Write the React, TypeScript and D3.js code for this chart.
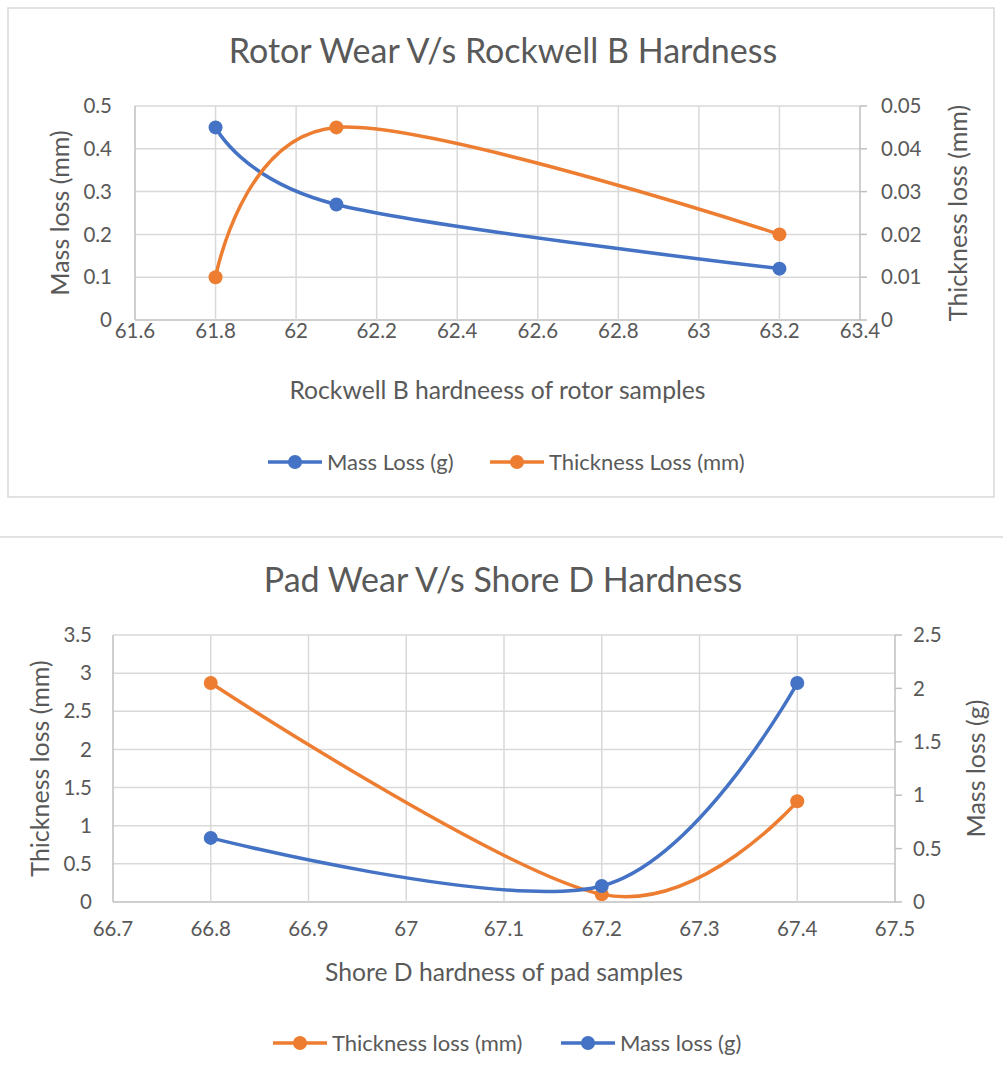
import React from "react";
import * as d3 from "d3";

// ---- Rotor chart data ----
const rotorHardness = [61.8, 62.1, 63.2];
const rotorMassLoss = [0.45, 0.27, 0.12];
const rotorThicknessLoss = [0.01, 0.045, 0.02];
const rotorXTicks = [61.6, 61.8, 62, 62.2, 62.4, 62.6, 62.8, 63, 63.2, 63.4];
const rotorLeftTicks = [0, 0.1, 0.2, 0.3, 0.4, 0.5];
const rotorRightTicks = [0, 0.01, 0.02, 0.03, 0.04, 0.05];

// ---- Pad chart data ----
const padHardness = [66.8, 67.2, 67.4];
const padThicknessLoss = [2.87, 0.1, 1.32];
const padMassLoss = [0.6, 0.15, 2.05];
const padXTicks = [66.7, 66.8, 66.9, 67, 67.1, 67.2, 67.3, 67.4, 67.5];
const padLeftTicks = [0, 0.5, 1, 1.5, 2, 2.5, 3, 3.5];
const padRightTicks = [0, 0.5, 1, 1.5, 2, 2.5];

const BLUE = "#4472C4";
const ORANGE = "#ED7D31";
const TEXT = "#595959";
const GRID = "#d9d9d9";
const AXIS = "#bfbfbf";
const FONT = "Lato, 'Open Sans', sans-serif";

type Series = { name: string; values: number[]; color: string; axis: "left" | "right" };

function DualChart(props: {
  title: string;
  titleY: number;
  x: number[];
  xTicks: number[];
  leftTicks: number[];
  rightTicks: number[];
  series: Series[];
  plot: { left: number; right: number; top: number; bottom: number };
  leftTitle: string;
  leftTitleX: number;
  rightTitle: string;
  rightTitleX: number;
  xTitle: string;
  xTitleY: number;
  leftLabelX: number;
  rightLabelX: number;
  xLabelY: number;
  legendY: number;
  legendX: number[];
}) {
  const p = props;
  const xs = d3
    .scaleLinear()
    .domain([p.xTicks[0], p.xTicks[p.xTicks.length - 1]])
    .range([p.plot.left, p.plot.right]);
  const yl = d3
    .scaleLinear()
    .domain([p.leftTicks[0], p.leftTicks[p.leftTicks.length - 1]])
    .range([p.plot.bottom, p.plot.top]);
  const yr = d3
    .scaleLinear()
    .domain([p.rightTicks[0], p.rightTicks[p.rightTicks.length - 1]])
    .range([p.plot.bottom, p.plot.top]);
  const midY = (p.plot.top + p.plot.bottom) / 2;
  const fmt = (v: number) => String(+v.toFixed(4));

  return (
    <g fontFamily={FONT} fill={TEXT}>
      <text x={503} y={p.titleY} textAnchor="middle" fontSize={34} fill={TEXT}>
        {p.title}
      </text>
      {p.leftTicks.map((t) => (
        <line key={"h" + t} x1={p.plot.left} x2={p.plot.right} y1={yl(t)} y2={yl(t)} stroke={t === 0 ? AXIS : GRID} strokeWidth={1.5} />
      ))}
      {p.xTicks.map((t, i) => (
        <line key={"v" + t} x1={xs(t)} x2={xs(t)} y1={p.plot.top} y2={p.plot.bottom} stroke={i === 0 || i === p.xTicks.length - 1 ? AXIS : GRID} strokeWidth={1.5} />
      ))}
      {p.rightTicks.map((t) => (
        <line key={"rt" + t} x1={p.plot.right} x2={p.plot.right + 7} y1={yr(t)} y2={yr(t)} stroke={AXIS} strokeWidth={1.5} />
      ))}
      {p.leftTicks.map((t) => (
        <text key={"ll" + t} x={p.leftLabelX} y={yl(t)} dy="0.35em" textAnchor="end" fontSize={20.5}>
          {fmt(t)}
        </text>
      ))}
      {p.rightTicks.map((t) => (
        <text key={"rl" + t} x={p.rightLabelX} y={yr(t)} dy="0.35em" textAnchor="start" fontSize={20.5}>
          {fmt(t)}
        </text>
      ))}
      {p.xTicks.map((t) => (
        <text key={"xl" + t} x={xs(t)} y={p.xLabelY} dy="0.35em" textAnchor="middle" fontSize={20.5}>
          {fmt(t)}
        </text>
      ))}
      <text transform={`translate(${p.leftTitleX},${midY}) rotate(-90)`} textAnchor="middle" dy="0.35em" fontSize={25}>
        {p.leftTitle}
      </text>
      <text transform={`translate(${p.rightTitleX},${midY}) rotate(-90)`} textAnchor="middle" dy="0.35em" fontSize={25}>
        {p.rightTitle}
      </text>
      <text x={(p.plot.left + p.plot.right) / 2} y={p.xTitleY} dy="0.35em" textAnchor="middle" fontSize={24.7}>
        {p.xTitle}
      </text>
      {p.series.map((s) => {
        const ys = s.axis === "left" ? yl : yr;
        const pts: [number, number][] = p.x.map((xv, i) => [xs(xv), ys(s.values[i])]);
        const line = d3.line().curve(d3.curveCardinal.tension(0))(pts) || "";
        return (
          <g key={s.name}>
            <path d={line} fill="none" stroke={s.color} strokeWidth={3.5} strokeLinecap="round" />
            {pts.map((pt, i) => (
              <circle key={i} cx={pt[0]} cy={pt[1]} r={7} fill={s.color} />
            ))}
          </g>
        );
      })}
      {p.series.map((s, i) => {
        const lx = p.legendX[i];
        return (
          <g key={"lg" + s.name}>
            <line x1={lx} x2={lx + 54} y1={p.legendY} y2={p.legendY} stroke={s.color} strokeWidth={3.5} />
            <circle cx={lx + 27} cy={p.legendY} r={7} fill={s.color} />
            <text x={lx + 59} y={p.legendY} dy="0.35em" fontSize={22}>
              {s.name}
            </text>
          </g>
        );
      })}
    </g>
  );
}

export default function App() {
  return (
    <svg width={1003} height={1078} style={{ position: "absolute", left: 0, top: 0, background: "#fff" }}>
      <rect x={0} y={0} width={1003} height={1078} fill="#fff" />
      <rect x={8} y={8} width={986} height={489} fill="none" stroke={GRID} strokeWidth={1.5} />
      <line x1={0} x2={1003} y1={537} y2={537} stroke={GRID} strokeWidth={1.5} />
      <DualChart
        title="Rotor Wear V/s Rockwell B Hardness"
        titleY={63}
        x={rotorHardness}
        xTicks={rotorXTicks}
        leftTicks={rotorLeftTicks}
        rightTicks={rotorRightTicks}
        series={[
          { name: "Mass Loss (g)", values: rotorMassLoss, color: BLUE, axis: "left" },
          { name: "Thickness Loss (mm)", values: rotorThicknessLoss, color: ORANGE, axis: "right" },
        ]}
        plot={{ left: 135, right: 860, top: 106, bottom: 320 }}
        leftTitle="Mass loss (mm)"
        leftTitleX={60}
        rightTitle="Thickness loss (mm)"
        rightTitleX={958}
        xTitle="Rockwell B hardneess of rotor samples"
        xTitleY={390}
        leftLabelX={112}
        rightLabelX={881}
        xLabelY={331}
        legendY={462}
        legendX={[268, 490]}
      />
      <DualChart
        title="Pad Wear V/s Shore D Hardness"
        titleY={592}
        x={padHardness}
        xTicks={padXTicks}
        leftTicks={padLeftTicks}
        rightTicks={padRightTicks}
        series={[
          { name: "Thickness loss (mm)", values: padThicknessLoss, color: ORANGE, axis: "left" },
          { name: "Mass loss (g)", values: padMassLoss, color: BLUE, axis: "right" },
        ]}
        plot={{ left: 113, right: 895, top: 635, bottom: 902 }}
        leftTitle="Thickness loss (mm)"
        leftTitleX={40}
        rightTitle="Mass loss (g)"
        rightTitleX={976}
        xTitle="Shore D hardness of pad samples"
        xTitleY={972}
        leftLabelX={92}
        rightLabelX={913}
        xLabelY={929}
        legendY={1043}
        legendX={[273, 561]}
      />
    </svg>
  );
}
